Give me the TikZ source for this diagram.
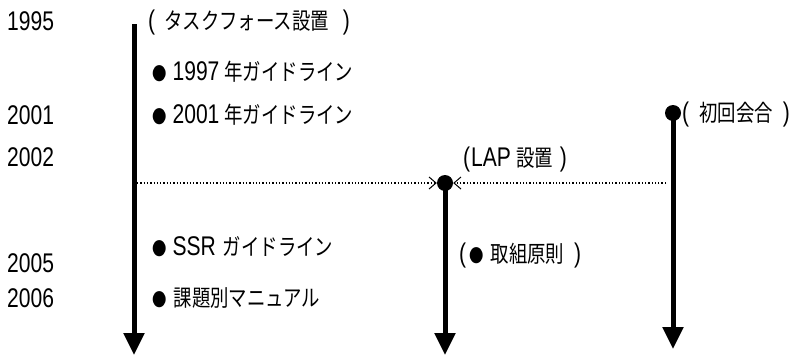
\documentclass[tikz,border=0pt]{standalone}
\usepackage{fontspec}
\setmainfont{Liberation Sans}[FakeStretch=0.78]
\newfontfamily\jpf{Noto Sans CJK JP}[FakeStretch=0.8]
\newcommand{\jp}{\jpf\fontsize{23}{24}\selectfont}
\newcommand{\bul}{{\jpf\fontsize{18}{18}\selectfont ●}}
\usetikzlibrary{arrows.meta}
\begin{document}
\begin{tikzpicture}[x=1pt,y=-1pt,
  lbl/.style={anchor=west,inner sep=0pt,font=\fontsize{27}{27}\selectfont},
  yr/.style={anchor=west,inner sep=0pt,font=\fontsize{27}{27}\selectfont},
  tline/.style={line width=5pt,-{Triangle[length=22pt,width=20pt]}},
  dotn/.style={circle,fill=black,inner sep=0pt,minimum size=16pt},
  dots/.style={dotted,line width=1.3pt,-{Straight Barb[length=7pt,width=12pt,line width=1pt]}}]
\useasboundingbox (0,0) rectangle (797,356);
% years
\node[yr] (y1995) at (7,21) {1995};
\node[yr] (y2001) at (7,115) {2001};
\node[yr] (y2002) at (7,157) {2002};
\node[yr] (y2005) at (7,263) {2005};
\node[yr] (y2006) at (7,298) {2006};
% timelines
\coordinate (Ltop) at (134,24);
\coordinate (Lend) at (134,355);
\draw[tline] (Ltop) -- (Lend);
\node[dotn] (M) at (445,183) {};
\coordinate (Mend) at (445,355);
\draw[tline] (M.center) -- (Mend);
\node[dotn] (R) at (673,113) {};
\coordinate (Rend) at (673,349);
\draw[tline] (R.center) -- (Rend);
% dotted connectors
\coordinate (Lmid) at (137,183);
\coordinate (Rmid) at (666,183);
\draw[dots] (Lmid) -- (M.west);
\draw[dots] (Rmid) -- (M.east);
% labels
\node[lbl] (t1) at (148,23) {(\hspace{9pt}{\jp タスクフォース設置}\hspace{14pt})};
\node[lbl] (t2) at (152,72) {\bul\hspace{6pt}1997\hspace{5pt}{\jp 年ガイドライン}};
\node[lbl] (t3) at (152,115) {\bul\hspace{6pt}2001\hspace{5pt}{\jp 年ガイドライン}};
\node[lbl] (t4) at (152,247) {\bul\hspace{6pt}SSR\hspace{7pt}{\jp ガイドライン}};
\node[lbl] (t5) at (152,298) {\bul\hspace{7pt}{\jp 課題別マニュアル}};
\node[lbl] (t6) at (463,160) {(\hspace{1pt}LAP\hspace{5pt}{\jp 設置}\hspace{7pt})};
\node[lbl] (t7) at (459,256) {(\hspace{3pt}\bul\hspace{7pt}{\jp 取組原則}\hspace{10pt})};
\node[lbl] (t8) at (682,115) {(\hspace{10pt}{\jp 初回会合}\hspace{10pt})};
\end{tikzpicture}
\end{document}
